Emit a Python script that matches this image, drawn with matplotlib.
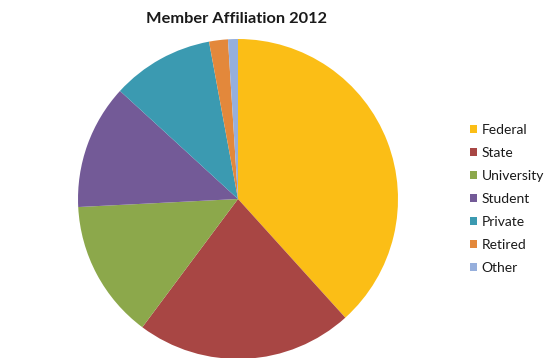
import matplotlib.pyplot as plt

# member counts share by affiliation, percent
labels = ["Federal", "State", "University", "Student", "Private", "Retired", "Other"]
shares = [38.3, 21.9, 14.0, 12.6, 10.3, 1.9, 1.0]
colors = ["#FBBE16", "#A84644", "#8CA84B", "#735A97", "#3B9AB1", "#E3883B", "#96AFDC"]

fig = plt.figure(figsize=(5.6, 3.58), dpi=100)

# pie placed so the circle sits left of the legend
ax = fig.add_axes([0.1393, -0.0028, 0.5714, 0.8939])
wedges, _ = ax.pie(shares, colors=colors, startangle=90, counterclock=False,
                   radius=1.0, wedgeprops=dict(linewidth=0))
ax.set_xlim(-1, 1)
ax.set_ylim(-1, 1)
ax.set_aspect("equal")
ax.axis("off")

fig.text(237 / 560, 1 - 19 / 358, "Member Affiliation 2012", ha="center", va="center",
         fontsize=11.8, fontweight="bold", family="Lato", color="#1a1a1a")

leg = fig.legend(wedges, labels, loc="center left", bbox_to_anchor=(470 / 560, 1 - 199 / 358),
                 frameon=False, prop={"family": "Lato", "size": 10},
                 handlelength=0.5, handleheight=0.5, handletextpad=0.35,
                 labelspacing=0.79, borderaxespad=0, borderpad=0)
for t in leg.get_texts():
    t.set_color("#1a1a1a")

fig.savefig("out.png", dpi=100)
